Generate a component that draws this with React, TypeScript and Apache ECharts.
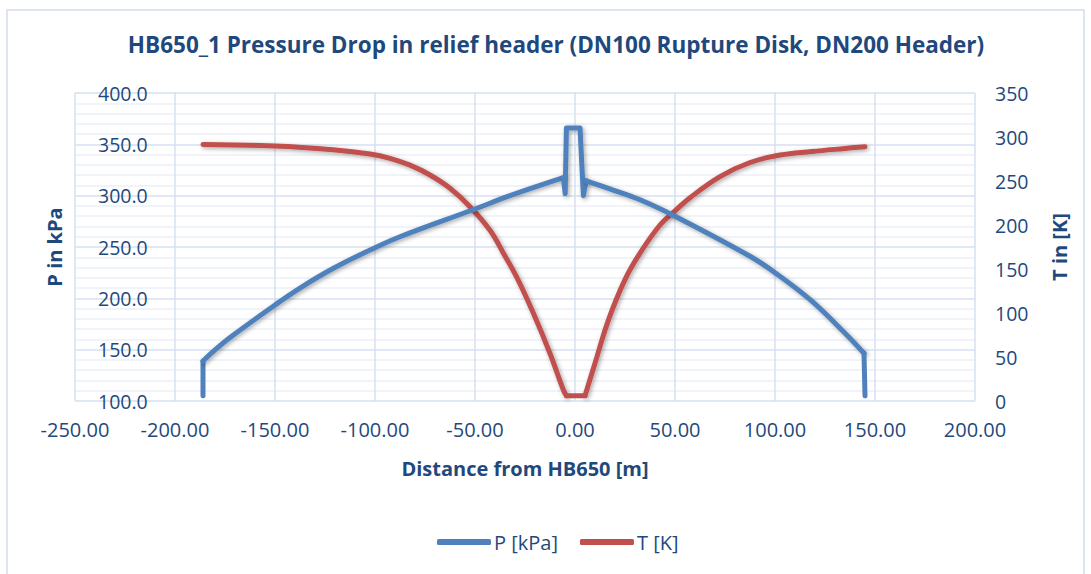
import React, { useEffect, useRef } from "react";
import * as echarts from "echarts";

const titleText = "HB650_1 Pressure Drop in relief header (DN100 Rupture Disk, DN200 Header)";
const xName = "Distance from HB650 [m]";
const pName = "P in kPa";
const tName = "T in [K]";
const pSeriesName = "P [kPa]";
const tSeriesName = "T [K]";

// Pressure curve (distance m, pressure kPa), split into pieces
const pLeftEndDist = [-186, -186];
const pLeftEndVal = [105, 139];
const pLeftDist = [-186, -179, -171, -150, -137.5, -121, -102.5, -87.5, -50, -32.5, -5.8];
const pLeftVal = [139, 151.5, 164, 193.5, 210, 229, 247, 260, 287, 300, 317.5];
const pSpikeDist = [-5.8, -4.9, -4.3, 2.5, 4.2, 5.5];
const pSpikeVal = [317.5, 302, 366, 366, 300, 314.5];
const pRightDist = [5.5, 16.7, 32.5, 50, 87.5, 100, 118, 135, 144.5];
const pRightVal = [314.5, 307, 296, 280, 241, 225, 198, 166, 146.5];
const pRightEndDist = [144.5, 145];
const pRightEndVal = [146.5, 105];

// Temperature curve (distance m, temperature K), split into pieces
const tLeftDist = [-186, -150, -121, -102.5, -92.5, -82.5, -72.5, -62.5, -52.5, -42.5, -35.8, -29.2, -20.8, -12.5, -5.8, -4.3];
const tLeftVal = [291.5, 289.8, 285.5, 280.7, 275.8, 268, 256.8, 241.7, 220.8, 194, 168, 141, 99.6, 54, 12.5, 6];
const tBottomDist = [-4.3, 5];
const tBottomVal = [6, 6];
const tRightDist = [5, 10, 16.7, 25, 32.5, 42.5, 50, 57.5, 72.5, 87.5, 102.5, 118.3, 135, 145];
const tRightVal = [6, 42.8, 92, 138, 168, 200, 216, 231, 255, 271, 279.5, 283.5, 287, 289];

const xMin = -250, xMax = 200, xStep = 50;
const pMin = 100, pMax = 400, pStep = 50;
const tMin = 0, tMax = 350, tStep = 50;

const FONT = "Open Sans";
const TXT = "#1F497D";
const BLUE = "#4F81BD";
const RED = "#C0504D";

const zip = (a: number[], b: number[]) => a.map((d, i) => [d, b[i]]);

export default function App() {
  const ref = useRef<HTMLDivElement>(null);
  useEffect(() => {
    if (!ref.current) return;
    const chart = echarts.init(ref.current, undefined, { renderer: "svg" });
    const shadow = { shadowBlur: 4, shadowColor: "rgba(0,0,0,0.35)", shadowOffsetX: 1.5, shadowOffsetY: 1.5 };
    const line = (id: string, name: string, color: string, axis: number, data: number[][], smooth: number | boolean, z: number, withShadow: boolean) => ({
      id,
      name,
      type: "line",
      yAxisIndex: axis,
      showSymbol: false,
      symbol: "none",
      smooth,
      data,
      itemStyle: { color },
      lineStyle: { color, width: 5, cap: "round", join: "round", ...(withShadow ? shadow : {}) },
      z,
    });
    chart.setOption({
      animation: false,
      backgroundColor: "#ffffff",
      textStyle: { fontFamily: FONT },
      title: {
        text: titleText,
        left: 551,
        textAlign: "center",
        top: 28,
        textStyle: { fontFamily: FONT, fontWeight: "bold", fontSize: 22.5, color: TXT },
      },
      graphic: [
        { type: "rect", shape: { x: 7, y: 10, width: 1077, height: 600 }, style: { fill: "none", stroke: "#d3ddeb", lineWidth: 1.5 }, silent: true },
      ],
      legend: {
        left: 432,
        top: 527,
        itemWidth: 54,
        itemHeight: 6,
        itemGap: 22,
        icon: "roundRect",
        textStyle: { fontFamily: FONT, fontSize: 20, color: TXT, padding: [0, 0, 0, -2] },
        data: [pSeriesName, tSeriesName],
      },
      grid: { left: 75, right: 116, top: 93, bottom: 173 },
      xAxis: {
        type: "value",
        min: xMin,
        max: xMax,
        interval: xStep,
        name: xName,
        nameLocation: "middle",
        nameGap: 57,
        nameTextStyle: { fontFamily: FONT, fontWeight: "bold", fontSize: 20, color: TXT },
        axisLine: { show: false },
        axisTick: { show: false },
        axisLabel: { margin: 18, fontFamily: FONT, fontSize: 20, color: TXT, formatter: (v: number) => v.toFixed(2) },
        splitLine: { show: true, lineStyle: { color: "#d5e1f1", width: 1.5 } },
      },
      yAxis: [
        {
          type: "value",
          min: pMin,
          max: pMax,
          interval: pStep,
          name: pName,
          nameLocation: "middle",
          nameGap: 11,
          nameRotate: 90,
          nameTextStyle: { fontFamily: FONT, fontWeight: "bold", fontSize: 20, color: TXT },
          axisLine: { show: false },
          axisTick: { show: false },
          axisLabel: { inside: true, margin: 23, fontFamily: FONT, fontSize: 19.5, color: TXT, formatter: (v: number) => v.toFixed(1) },
          splitLine: { show: true, lineStyle: { color: "#d5e1f1", width: 1.5 } },
          minorTick: { show: false, splitNumber: 5 },
          minorSplitLine: { show: true, lineStyle: { color: "#ebf0f8", width: 1.5 } },
        },
        {
          type: "value",
          min: tMin,
          max: tMax,
          interval: tStep,
          name: tName,
          nameLocation: "middle",
          nameGap: 74,
          nameRotate: 90,
          nameTextStyle: { fontFamily: FONT, fontWeight: "bold", fontSize: 20, color: TXT },
          axisLine: { show: false },
          axisTick: { show: false },
          axisLabel: { margin: 20, fontFamily: FONT, fontSize: 19.5, color: TXT },
          splitLine: { show: false },
        },
      ],
      series: [
        line("p-left-end", pSeriesName, BLUE, 0, zip(pLeftEndDist, pLeftEndVal), false, 3, false),
        line("p-left", pSeriesName, BLUE, 0, zip(pLeftDist, pLeftVal), 0.4, 3, true),
        line("p-spike", pSeriesName, BLUE, 0, zip(pSpikeDist, pSpikeVal), false, 3, true),
        line("p-right", pSeriesName, BLUE, 0, zip(pRightDist, pRightVal), 0.4, 3, true),
        line("p-right-end", pSeriesName, BLUE, 0, zip(pRightEndDist, pRightEndVal), false, 3, false),
        line("t-left", tSeriesName, RED, 1, zip(tLeftDist, tLeftVal), 0.4, 2, true),
        line("t-bottom", tSeriesName, RED, 1, zip(tBottomDist, tBottomVal), false, 2, false),
        line("t-right", tSeriesName, RED, 1, zip(tRightDist, tRightVal), 0.4, 2, true),
      ],
    });
    return () => chart.dispose();
  }, []);
  return <div ref={ref} style={{ position: "fixed", left: 0, top: 0, width: 1091, height: 574 }} />;
}
